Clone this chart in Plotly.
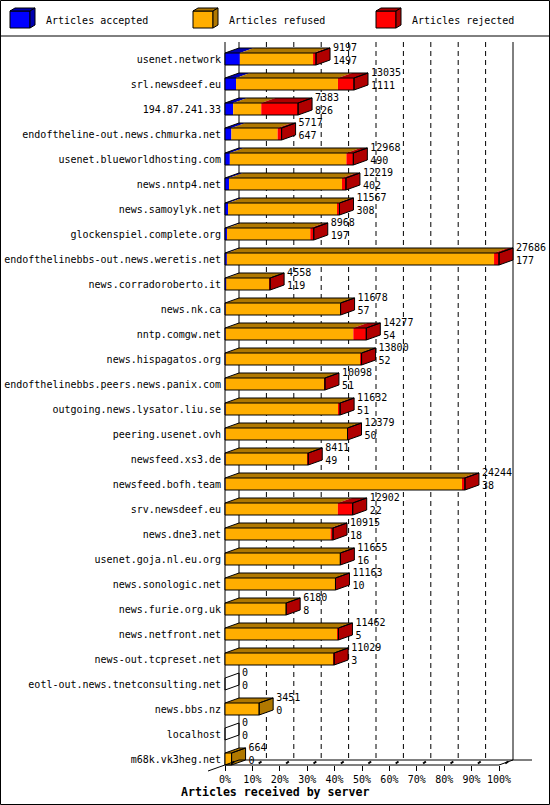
import plotly.graph_objects as go

# data
servers = [
    "usenet.network", "srl.newsdeef.eu", "194.87.241.33",
    "endoftheline-out.news.chmurka.net", "usenet.blueworldhosting.com",
    "news.nntp4.net", "news.samoylyk.net", "glockenspiel.complete.org",
    "endofthelinebbs-out.news.weretis.net", "news.corradoroberto.it",
    "news.nk.ca", "nntp.comgw.net", "news.hispagatos.org",
    "endofthelinebbs.peers.news.panix.com", "outgoing.news.lysator.liu.se",
    "peering.usenet.ovh", "newsfeed.xs3.de", "newsfeed.bofh.team",
    "srv.newsdeef.eu", "news.dne3.net", "usenet.goja.nl.eu.org",
    "news.sonologic.net", "news.furie.org.uk", "news.netfront.net",
    "news-out.tcpreset.net", "eotl-out.news.tnetconsulting.net",
    "news.bbs.nz", "localhost", "m68k.vk3heg.net",
]
offered = [9197, 13035, 7383, 5717, 12968, 12219, 11567, 8968, 27686, 4558,
           11678, 14277, 13800, 10098, 11632, 12379, 8411, 24244, 12902, 10915,
           11655, 11163, 6180, 11462, 11029, 0, 3451, 0, 664]
accepted = [1497, 1111, 826, 647, 490, 402, 308, 197, 177, 119, 57, 54, 52, 51,
            51, 50, 49, 38, 22, 18, 16, 10, 8, 5, 3, 0, 0, 0, 0]
refused = [7400, 10304, 2837, 4670, 11778, 11417, 11109, 8421, 27009, 4399,
           11601, 12913, 13648, 10027, 11431, 12299, 8262, 23906, 11380, 10647,
           11619, 11133, 6162, 11357, 11006, 0, 3451, 0, 664]
rejected = [300, 1620, 3720, 400, 700, 400, 150, 350, 500, 40, 20, 1310, 100,
            20, 150, 30, 100, 300, 1500, 250, 20, 20, 10, 100, 20, 0, 0, 0, 0]
series_names = ["Articles accepted", "Articles refused", "Articles rejected"]
tick_pct = list(range(0, 101, 10))

FONT = "DejaVu Sans Mono"
FRONT = ["#0000ff", "#ffae00", "#ff0000"]
DARK = ["#0000b0", "#b07800", "#b00000"]

# pixel geometry of the page
W, H = 550, 805
L, R, T, B = 200, 10, 42, 30
PX_PER_PCT = 2.74
X0_PX = 225
ROW_PX, ROW0_PX = 25, 59
DX = 14 / PX_PER_PCT       # depth of the 3d effect, in x units
DY = 5 / ROW_PX            # depth, in row units
HW = 6 / ROW_PX            # half height of a bar front

pw, ph = W - L - R, H - T - B
xmin = (L - X0_PX) / PX_PER_PCT
xmax = (W - R - X0_PX) / PX_PER_PCT
ytop = (T - ROW0_PX) / ROW_PX
ybot = (H - B - ROW0_PX) / ROW_PX


def paper_x(px):
    return (px - L) / pw


def paper_y(py):
    return (H - B - py) / ph


scale = 100.0 / max(offered)
n = len(servers)
rows = list(range(n))
segs = [[v * scale for v in s] for s in (accepted, refused, rejected)]

fig = go.Figure()

# front faces
base = [0.0] * n
for k in range(3):
    fig.add_trace(go.Bar(
        y=rows, x=segs[k], base=list(base), orientation="h", width=2 * HW,
        marker=dict(color=FRONT[k], line=dict(width=0)), name=series_names[k],
        showlegend=False, hoverinfo="skip",
    ))
    base = [b + v for b, v in zip(base, segs[k])]


def add_poly(xs, ys, fill, line_w=0):
    fig.add_trace(go.Scatter(
        x=xs, y=ys, mode="lines", fill="toself" if fill else None,
        fillcolor=fill, line=dict(color="black", width=line_w),
        showlegend=False, hoverinfo="skip",
    ))


tops = [([], []) for _ in range(3)]
sides = [([], []) for _ in range(3)]
ox, oy = [], []
for i in rows:
    yt, yb = i - HW, i + HW
    start = 0.0
    last = None
    for k in range(3):
        w = segs[k][i]
        if w > 0:
            a, b = start, start + w
            tops[k][0].extend([a, b, b + DX, a + DX, a, None])
            tops[k][1].extend([yt, yt, yt - DY, yt - DY, yt, None])
            last = k
            start = b
    e = start
    side_x = [e, e + DX, e + DX, e, e, None]
    side_y = [yt, yt - DY, yb - DY, yb, yt, None]
    if last is not None:
        sides[last][0].extend(side_x)
        sides[last][1].extend(side_y)
        ox.extend([0, e, e, 0, 0, None])
        oy.extend([yt, yt, yb, yb, yt, None])
        ox.extend([0, DX, e + DX, e, None])
        oy.extend([yt, yt - DY, yt - DY, yt, None])
    ox.extend(side_x)
    oy.extend(side_y)

for k in range(3):
    if tops[k][0]:
        add_poly(tops[k][0], tops[k][1], DARK[k])
    if sides[k][0]:
        add_poly(sides[k][0], sides[k][1], DARK[k])
add_poly(ox, oy, None, 1)

# value labels: offered on top, accepted below
ends = [a + b + c for a, b, c in zip(*segs)]
lab_x = [e + DX + 3 / PX_PER_PCT for e in ends]
fig.add_trace(go.Scatter(
    x=lab_x, y=[i - 0.44 for i in rows], mode="text",
    text=[str(v) for v in offered], textposition="middle right",
    textfont=dict(family=FONT, size=10, color="black"),
    cliponaxis=False, showlegend=False, hoverinfo="skip",
))
fig.add_trace(go.Scatter(
    x=lab_x, y=[i + 0.1 for i in rows], mode="text",
    text=[str(v) for v in accepted], textposition="middle right",
    textfont=dict(family=FONT, size=10, color="black"),
    cliponaxis=False, showlegend=False, hoverinfo="skip",
))

# walls, floor and grid
y_front = n - 1 + HW
y_back = y_front - DY
shapes = []
line = dict(color="black", width=1)
for p in tick_pct[1:-1]:
    shapes.append(dict(type="line", x0=p + DX, x1=p + DX, y0=ytop, y1=y_back,
                       line=dict(color="black", width=1, dash="5px,4px"),
                       layer="below"))
shapes += [
    dict(type="line", x0=DX, x1=DX, y0=ytop, y1=y_back, line=line, layer="below"),
    dict(type="line", x0=100 + DX, x1=100 + DX, y0=ytop, y1=y_back, line=line, layer="below"),
    dict(type="line", x0=0, x1=0, y0=ytop, y1=y_front, line=line, layer="below"),
    dict(type="line", x0=DX, x1=(532 - X0_PX) / PX_PER_PCT, y0=y_back, y1=y_back, line=line),
    dict(type="line", x0=0, x1=100, y0=y_front, y1=y_front, line=line),
    dict(type="line", x0=100, x1=100 + DX, y0=y_front, y1=y_back, line=line),
    dict(type="line", x0=DX, x1=-17 / PX_PER_PCT, y0=y_back, y1=y_front + 6 / ROW_PX, line=line),
]
for p in tick_pct:
    shapes.append(dict(type="line", x0=p + 0.45 * DX, x1=p + 0.65 * DX,
                       y0=y_front - 0.3 * DY, y1=y_front - 0.7 * DY,
                       line=dict(color="black", width=2)))

# page border and legend box
shapes.append(dict(type="rect", xref="paper", yref="paper",
                   x0=paper_x(0.5), x1=paper_x(W - 0.5), y0=paper_y(H - 0.5), y1=paper_y(0.5),
                   line=line))
shapes.append(dict(type="line", xref="paper", yref="paper",
                   x0=paper_x(0), x1=paper_x(W), y0=paper_y(36), y1=paper_y(36), line=line))

annotations = []
for k, (cx, tx) in enumerate([(10, 44), (193, 227), (376, 410)]):
    def pt(px, py):
        return f"{paper_x(px)},{paper_y(py)}"
    front = f"M{pt(cx, 11)} L{pt(cx + 20, 11)} L{pt(cx + 20, 28)} L{pt(cx, 28)} Z"
    top = f"M{pt(cx, 11)} L{pt(cx + 5, 8)} L{pt(cx + 25, 8)} L{pt(cx + 20, 11)} Z"
    side = f"M{pt(cx + 20, 11)} L{pt(cx + 25, 8)} L{pt(cx + 25, 25)} L{pt(cx + 20, 28)} Z"
    for path, col in ((front, FRONT[k]), (top, DARK[k]), (side, DARK[k])):
        shapes.append(dict(type="path", xref="paper", yref="paper", path=path,
                           fillcolor=col, line=line))
    annotations.append(dict(
        x=paper_x(tx), y=paper_y(20), xref="paper", yref="paper", text=series_names[k],
        showarrow=False, xanchor="left", yanchor="middle",
        font=dict(family=FONT, size=10, color="black"),
    ))

annotations.append(dict(
    x=paper_x(275), y=paper_y(792), xref="paper", yref="paper",
    text="<b>Articles received by server</b>", showarrow=False,
    xanchor="center", yanchor="middle",
    font=dict(family=FONT, size=11.6, color="black"),
))

fig.update_layout(
    width=W, height=H, margin=dict(l=L, r=R, t=T, b=B, autoexpand=False),
    paper_bgcolor="white", plot_bgcolor="white",
    barmode="overlay", shapes=shapes, annotations=annotations,
    font=dict(family=FONT, size=10, color="black"),
    xaxis=dict(
        range=[xmin, xmax], tickvals=tick_pct, ticktext=[f"{p}%" for p in tick_pct],
        ticks="outside", ticklen=5, tickcolor="black", showgrid=False,
        zeroline=False, showline=False, anchor="free", automargin=False,
        position=paper_y(y_front * ROW_PX + ROW0_PX),
        tickfont=dict(family=FONT, size=10, color="black"),
    ),
    yaxis=dict(
        range=[ybot, ytop], tickvals=rows, ticktext=servers, ticks="",
        showgrid=False, zeroline=False, showline=False, anchor="free",
        automargin=False, position=paper_x(X0_PX), ticklabelstandoff=4,
        tickfont=dict(family=FONT, size=10, color="black"),
    ),
)

# the page body has an 8px default margin; drop it so the figure fills the window
fig.write_html("out.html", config={"displayModeBar": False},
               post_script="document.body.style.margin='0';"
               "document.body.style.overflow='hidden';")
